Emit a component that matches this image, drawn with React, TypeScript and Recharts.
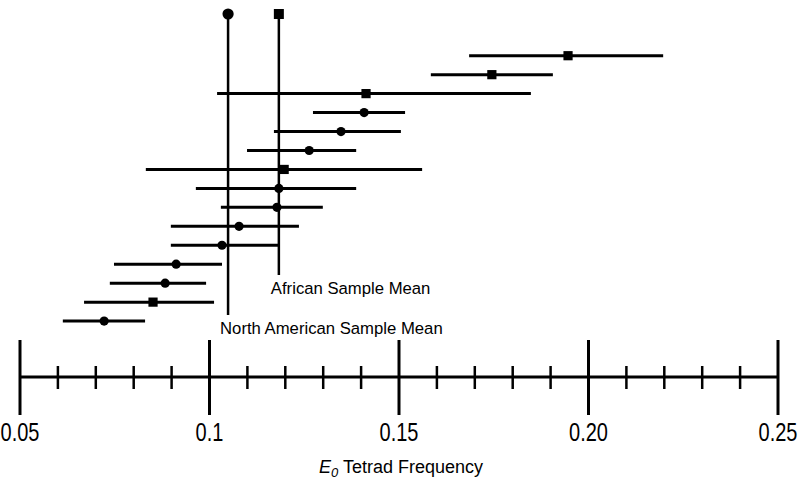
import React from 'react';
import { ScatterChart, Scatter, XAxis, YAxis, ErrorBar } from 'recharts';

// one entry per sample, top to bottom
const rowIndex = [1, 2, 3, 4, 5, 6, 7, 8, 9, 10, 11, 12, 13, 14, 15];
const rowMean = [0.1946, 0.1745, 0.1413, 0.1408, 0.1347, 0.1263, 0.1197, 0.1183, 0.1178, 0.1078, 0.1033, 0.0912, 0.0883, 0.0851, 0.0722];
const rowLow = [0.1685, 0.1584, 0.102, 0.1273, 0.117, 0.1099, 0.0832, 0.0964, 0.103, 0.0898, 0.0898, 0.0748, 0.0737, 0.0669, 0.0613];
const rowHigh = [0.2197, 0.1906, 0.1848, 0.1516, 0.1505, 0.1387, 0.1561, 0.1387, 0.1299, 0.1236, 0.1181, 0.1033, 0.0991, 0.1012, 0.083];
const rowGroup = ['african', 'african', 'african', 'na', 'na', 'na', 'african', 'na', 'na', 'na', 'na', 'na', 'na', 'african', 'na'];

// sample means (vertical lines)
const naMean = 0.1049;
const africanMean = 0.1183;
const meanTop = -1.2;
const naLineEnd = 14.68;
const africanLineEnd = 12.57;

const axisTicks = [0.05, 0.06, 0.07, 0.08, 0.09, 0.1, 0.11, 0.12, 0.13, 0.14, 0.15, 0.16, 0.17, 0.18, 0.19, 0.2, 0.21, 0.22, 0.23, 0.24, 0.25];
const majorTicks = [0.05, 0.1, 0.15, 0.2, 0.25];
const majorLabels = ['0.05', '0.1', '0.15', '0.20', '0.25'];

const FONT = '"Liberation Sans", Arial, Helvetica, sans-serif';

const rows = rowIndex.map((r, i) => ({
  x: rowMean[i],
  y: r,
  err: [rowMean[i] - rowLow[i], rowHigh[i] - rowMean[i]],
}));
const africanRows = rows.filter((_, i) => rowGroup[i] === 'african');
const naRows = rows.filter((_, i) => rowGroup[i] === 'na');

const naLine = [
  { x: naMean, y: meanTop, end: 'top' },
  { x: naMean, y: naLineEnd, end: 'bottom', label: 'North American Sample Mean' },
];
const africanLine = [
  { x: africanMean, y: meanTop, end: 'top' },
  { x: africanMean, y: africanLineEnd, end: 'bottom', label: 'African Sample Mean' },
];

const Dot = (p: any) => <circle cx={p.cx} cy={p.cy} r={4.6} fill="#000" />;
const Square = (p: any) => <rect x={p.cx - 4.6} y={p.cy - 4.6} width={9.2} height={9.2} fill="#000" />;

const meanShape = (kind: 'circle' | 'square') => (p: any) => {
  if (p.payload.end === 'top') {
    return kind === 'circle'
      ? <circle cx={p.cx} cy={p.cy} r={5.6} fill="#000" />
      : <rect x={p.cx - 5} y={p.cy - 5} width={10} height={10} fill="#000" />;
  }
  return (
    <text x={p.cx - 8} y={p.cy + 13} dominantBaseline="central" fontFamily={FONT} fontSize={16.7} fill="#000">
      {p.payload.label}
    </text>
  );
};

// tick labels in the original are a condensed face; squeeze them horizontally
const AxisTick = (props: any) => {
  const { x, y, payload } = props;
  const idx = majorTicks.findIndex((t) => Math.abs(t - payload.value) < 1e-9);
  if (idx >= 0) {
    return (
      <g>
        <line x1={x} x2={x} y1={y - 37} y2={y + 38} stroke="#000" strokeWidth={3} />
        <text
          transform={`translate(${x},${y + 56}) scale(0.8,1)`}
          textAnchor="middle"
          dominantBaseline="central"
          fontFamily={FONT}
          fontSize={25}
          fill="#000"
        >
          {majorLabels[idx]}
        </text>
      </g>
    );
  }
  return <line x1={x} x2={x} y1={y - 11} y2={y + 12} stroke="#000" strokeWidth={2.5} />;
};

const AxisTitle = (props: any) => {
  const vb = props.viewBox || { x: 20, y: 377, width: 758, height: 110 };
  return (
    <text x={vb.x + vb.width / 2 + 2} y={vb.y + 90} textAnchor="middle" dominantBaseline="central" fontFamily={FONT} fontSize={18} fill="#000">
      <tspan fontStyle="italic">E</tspan>
      <tspan fontStyle="italic" fontSize={13} dy={5}>0</tspan>
      <tspan dy={-5}> Tetrad Frequency</tspan>
    </text>
  );
};

export default function App() {
  return (
    <div style={{ position: 'absolute', left: 0, top: 0, background: '#fff' }}>
      <ScatterChart width={804} height={487} margin={{ top: 4, right: 26, bottom: 0, left: 20 }}>
        <XAxis
          type="number"
          dataKey="x"
          domain={[0.05, 0.25]}
          ticks={axisTicks}
          interval={0}
          allowDataOverflow
          height={110}
          tickSize={0}
          tickMargin={0}
          tickLine={false}
          axisLine={{ stroke: '#000', strokeWidth: 3 }}
          tick={<AxisTick />}
          label={<AxisTitle />}
        />
        <YAxis type="number" dataKey="y" domain={[-1.728, 17.95]} reversed hide width={0} allowDataOverflow />
        <Scatter data={naLine} line={{ stroke: '#000', strokeWidth: 2.5 }} lineType="joint" shape={meanShape('circle')} isAnimationActive={false} />
        <Scatter data={africanLine} line={{ stroke: '#000', strokeWidth: 2.5 }} lineType="joint" shape={meanShape('square')} isAnimationActive={false} />
        <Scatter data={naRows} shape={<Dot />} isAnimationActive={false}>
          <ErrorBar dataKey="err" direction="x" width={0} stroke="#000" strokeWidth={3} isAnimationActive={false} />
        </Scatter>
        <Scatter data={africanRows} shape={<Square />} isAnimationActive={false}>
          <ErrorBar dataKey="err" direction="x" width={0} stroke="#000" strokeWidth={3} isAnimationActive={false} />
        </Scatter>
      </ScatterChart>
    </div>
  );
}
